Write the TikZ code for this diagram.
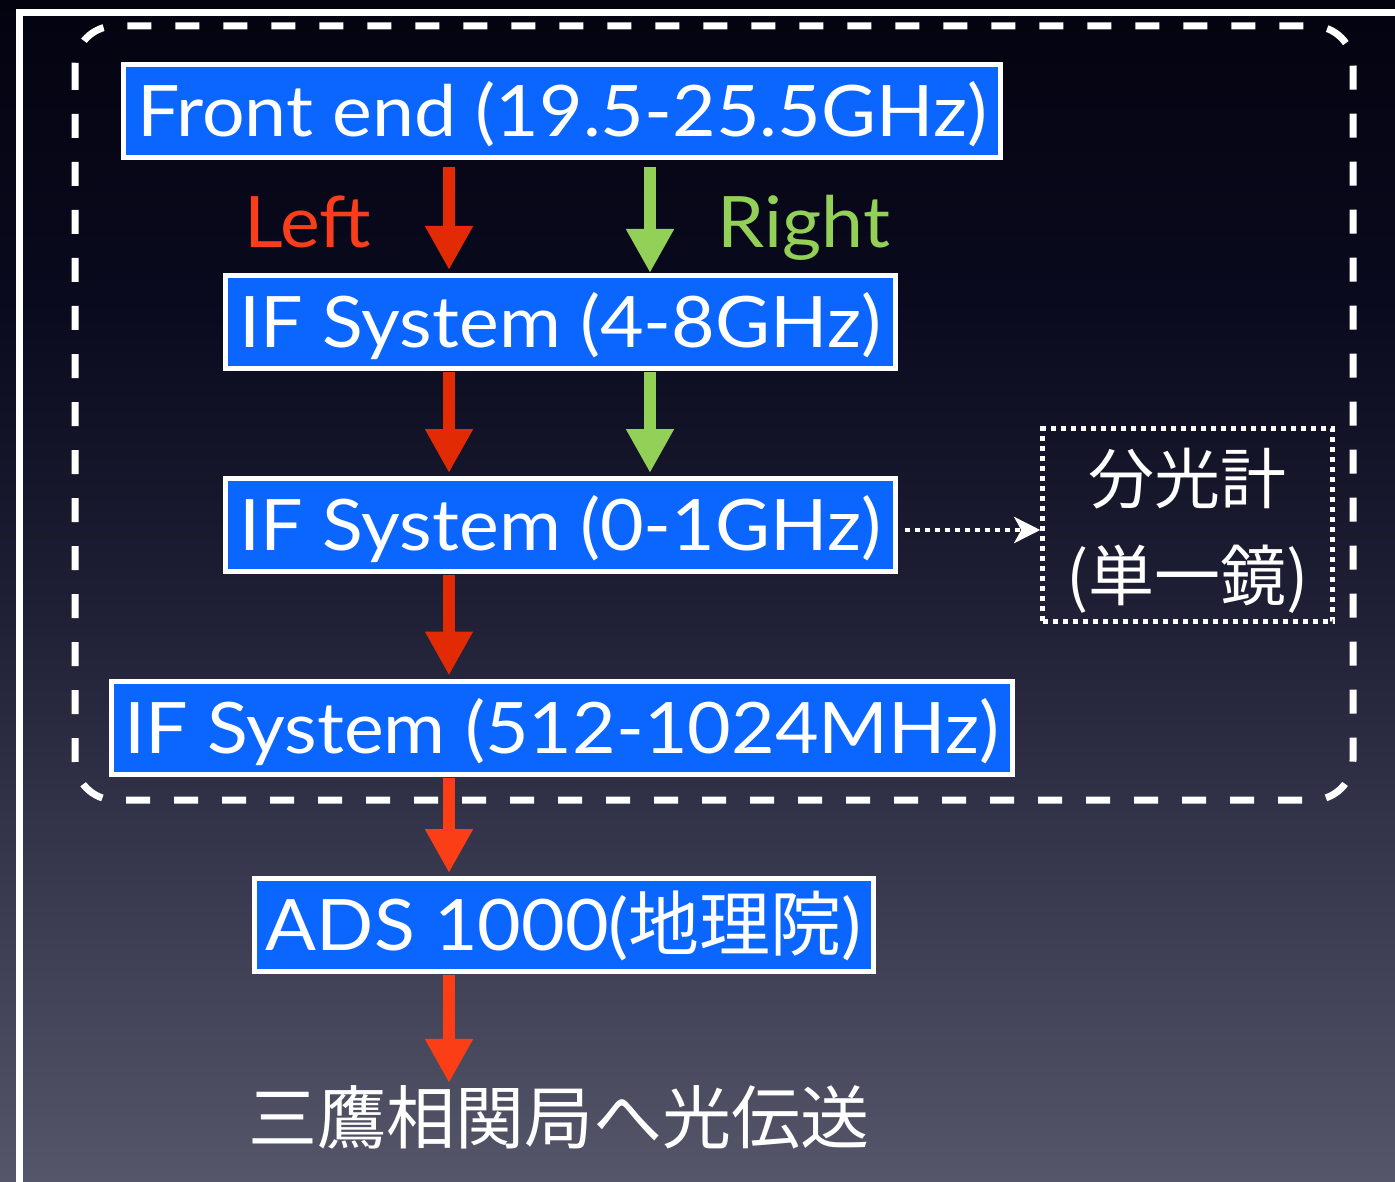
\documentclass[tikz,border=0pt]{standalone}
\usepackage{fontspec}
\setmainfont{Lato}[FakeStretch=1.06]
\newfontfamily\cjk{Noto Sans CJK JP}
\usetikzlibrary{arrows.meta}
\definecolor{ifblue}{RGB}{10,102,255}
\definecolor{arrred}{RGB}{226,42,5}
\definecolor{arrred2}{RGB}{252,62,22}
\definecolor{leftc}{RGB}{250,62,28}
\definecolor{arrgreen}{RGB}{146,208,88}
\definecolor{bg0}{RGB}{3,3,16}
\definecolor{bg1}{RGB}{10,10,30}
\definecolor{bg2}{RGB}{30,30,52}
\definecolor{bg3}{RGB}{58,58,80}
\definecolor{bg4}{RGB}{86,86,106}
\pgfdeclareverticalshading{bgshade}{100bp}{color(0bp)=(bg4); color(25bp)=(bg4); color(36.9bp)=(bg3); color(49.6bp)=(bg2); color(62.3bp)=(bg1); color(75bp)=(bg0); color(100bp)=(bg0)}
\tikzset{
  ifbox/.style={draw=white, line width=5pt, fill=ifblue, text=white,
    font=\fontsize{71}{80}\selectfont, inner sep=0pt, minimum height=93pt,
    text height=51pt, text depth=0pt},
  bigarrow/.style={line width=12pt, -{Triangle[length=44pt,width=45pt]}},
  biglabel/.style={font=\fontsize{71}{80}\selectfont, inner sep=0pt, anchor=base},
  dotline/.style={white, line width=4.5pt, dash pattern=on 5pt off 5pt},
}
\begin{document}
\begin{tikzpicture}[x=1pt,y=-1pt]
\useasboundingbox (0,0) rectangle (1395,1182);
\shade[shading=bgshade] (0,0) rectangle (1395,1182);
% frame lines
\draw[white, line width=7pt] (19.5,9) -- (19.5,1182);
\draw[white, line width=7pt] (16,12.5) -- (1395,12.5);
% dashed group
\draw[white, line width=7pt, dash pattern=on 24pt off 24pt, rounded corners=40pt] (75,26) rectangle (1353,800);

\coordinate (xl) at (449,0);
\coordinate (xr) at (650,0);

\node[ifbox, minimum width=877pt] (fe) at (562,111) {Front end (19.5-25.5GHz)};
\node[ifbox, minimum width=670pt] (if1) at (560.5,322) {IF System (4-8GHz)};
\node[ifbox, minimum width=670pt] (if2) at (560.5,525) {IF System (0-1GHz)};
\node[ifbox, minimum width=901pt] (if3) at (562,727.5) {IF System (512-1024MHz)};
\node[ifbox, minimum width=619pt] (ads) at (564,925) {ADS 1000({\cjk 地理院})};

\node[biglabel, text=leftc] (lft) at (308,248) {Left};
\node[biglabel, text=arrgreen] (rgt) at (804,248) {Right};

\node[dotline, draw=white, minimum width=290pt, minimum height=193pt, inner sep=0pt] (spec) at (1187.5,525) {};
\node[align=center, text=white, inner sep=0pt, font=\cjk\fontsize{66}{97}\selectfont] (spectxt) at (1187.5,531) {分光計\\(単一鏡)};

\node[text=white, inner sep=0pt, font=\cjk\fontsize{69}{80}\selectfont] (dest) at (559,1117) {三鷹相関局へ光伝送};

% arrows
\draw[bigarrow, arrred, shorten <=7pt, shorten >=3pt] (fe.south -| xl) -- (if1.north -| xl);
\draw[bigarrow, arrgreen, shorten <=7pt, shorten >=0pt] (fe.south -| xr) -- (if1.north -| xr);
\draw[bigarrow, arrred, shorten <=1pt, shorten >=3pt] (if1.south -| xl) -- (if2.north -| xl);
\draw[bigarrow, arrgreen, shorten <=1pt, shorten >=3pt] (if1.south -| xr) -- (if2.north -| xr);
\draw[bigarrow, arrred, shorten <=1pt, shorten >=3pt] (if2.south -| xl) -- (if3.north -| xl);
\draw[bigarrow, arrred2, shorten <=1pt, shorten >=3pt] (if3.south -| xl) -- (ads.north -| xl);
\draw[bigarrow, arrred2, shorten <=1pt, shorten >=2pt] (ads.south -| xl) -- (dest.north -| xl);

\draw[dotline, shorten <=7pt, -{Stealth[length=26pt,width=26pt,inset=7pt]}] ([yshift=-5pt]if2.east) -- ([yshift=-5pt]spec.west);
\end{tikzpicture}
\end{document}
